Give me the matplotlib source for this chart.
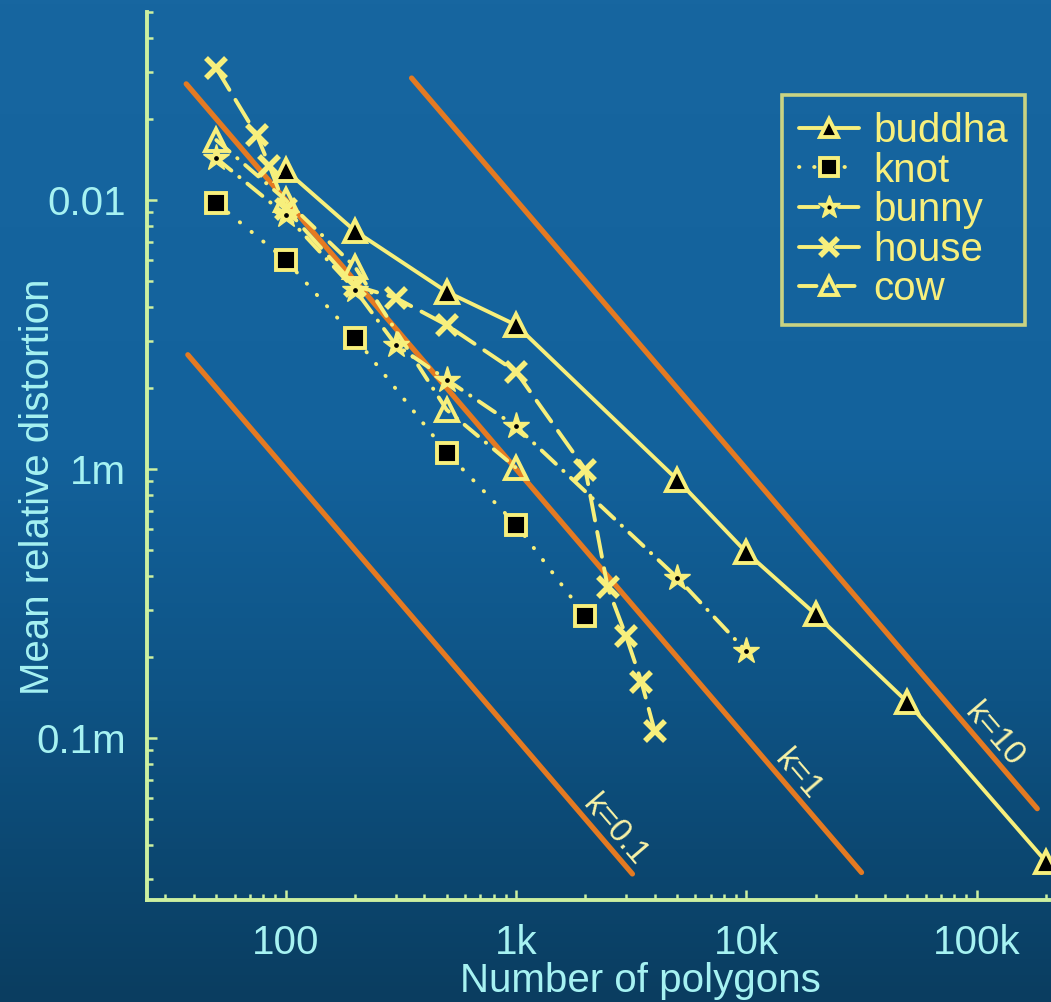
import numpy as np
import matplotlib
matplotlib.use("Agg")
import matplotlib.pyplot as plt
from matplotlib.colors import LinearSegmentedColormap
from matplotlib.ticker import LogLocator, FixedLocator, FixedFormatter, NullFormatter
from matplotlib.legend_handler import HandlerTuple

plt.rcParams['font.family'] = ['Liberation Sans', 'DejaVu Sans']

# ---------------- data ----------------
buddha_x = [100, 200, 500, 1000, 5000, 10000, 20000, 50000, 200000]
buddha_y = [0.0129, 0.00767, 0.00456, 0.00343, 0.000914, 0.00049, 0.000288, 0.000136, 3.47e-5]

knot_x = [50, 100, 200, 500, 1000, 2000]
knot_y = [0.00975, 0.00599, 0.00308, 0.00115, 0.000622, 0.000284]

bunny_x = [50, 100, 200, 300, 500, 1000, 5000, 10000]
bunny_y = [0.0143, 0.0088, 0.00464, 0.0029, 0.00215, 0.00144, 0.000395, 0.00021]

house_x = [50, 75, 85, 100, 200, 300, 500, 1000, 2000, 2500, 3000, 3500, 4000]
house_y = [0.0309, 0.0174, 0.0134, 0.0093, 0.0048, 0.00433, 0.00343, 0.0023,
           0.000995, 0.000363, 0.00024, 0.000162, 0.000106]

cow_x = [50, 100, 200, 500, 1000]
cow_y = [0.0167, 0.0100, 0.00564, 0.00166, 0.00101]

k_values = [0.1, 1, 10]
k_labels = ["k=0.1", "k=1", "k=10"]
k_start_x = [37.6, 37.0, 352]
k_end_x = [3200, 31600, 183000]
k_label_x = [2400, 14900, 106000]

xtick_vals = [100, 1000, 10000, 100000]
xtick_labels = ["100", "1k", "10k", "100k"]
ytick_vals = [0.01, 0.001, 0.0001]
ytick_labels = ["0.01", "1m", "0.1m"]

# ---------------- style ----------------
W, H = 1051, 1002
YEL = '#f7ef7c'
ORANGE = '#e47a22'
AXC = '#cdf0a0'
CYAN = '#a6f2f2'
FS = 29

fig = plt.figure(figsize=(W / 100, H / 100), dpi=100)

# background gradient
bg = fig.add_axes([0, 0, 1, 1], zorder=-10)
cmap = LinearSegmentedColormap.from_list(
    'bg', [(0.0, '#1766a0'), (0.45, '#13629c'), (0.7, '#0e5384'), (1.0, '#0a3d60')])
grad = np.linspace(0, 1, 256).reshape(-1, 1)
bg.imshow(grad, aspect='auto', cmap=cmap, extent=[0, 1, 0, 1], origin='upper')
bg.set_axis_off()

left = 147 / W
bottom = (H - 900) / H
top = (H - 12) / H
ax = fig.add_axes([left, bottom, 1.0 - left, top - bottom])
ax.set_facecolor('none')
ax.set_xscale('log')
ax.set_yscale('log')
ax.set_xlim(25, 2.1e5)
ax.set_ylim(2.5e-5, 0.05)

# reference k lines
for k, x0, x1 in zip(k_values, k_start_x, k_end_x):
    xs = np.array([x0, x1])
    ax.plot(xs, k / xs, color=ORANGE, lw=3.8, solid_capstyle='round', zorder=2)

lw = 2.8
common = dict(color=YEL, lw=lw, dash_capstyle='round', solid_capstyle='round', zorder=3)

l_buddha, = ax.plot(buddha_x, buddha_y, linestyle='-', marker='^', ms=16,
                    mfc='black', mec=YEL, mew=2.8, **common)
l_knot, = ax.plot(knot_x, knot_y, linestyle=(0, (0.1, 3.8)), marker='s', ms=14.5,
                  mfc='black', mec=YEL, mew=2.8, **common)
l_bunny, = ax.plot(bunny_x, bunny_y, linestyle=(0, (5, 2.6, 0.1, 2.6)), marker='*', ms=20,
                   mfc=YEL, mec=YEL, mew=1.0, **common)
d_bunny, = ax.plot(bunny_x, bunny_y, linestyle='none', marker='o', ms=2.4,
                   mfc='black', mec='black', zorder=4)
l_house, = ax.plot(house_x, house_y, linestyle=(0, (6.5, 3)), marker='x', ms=15,
                   mec=YEL, mew=4.0, **common)
l_cow, = ax.plot(cow_x, cow_y, linestyle=(0, (4.5, 2.6, 0.1, 2.6)), marker='^', ms=16,
                 mfc='none', mec=YEL, mew=2.8, **common)

# k labels
p0 = ax.transData.transform((100, 0.01))
p1 = ax.transData.transform((1000, 0.001))
ang = np.degrees(np.arctan2(p1[1] - p0[1], p1[0] - p0[0]))
ux, uy = (p1 - p0) / np.hypot(*(p1 - p0))
px, py = -uy, ux  # perpendicular (up-right)
for k, lab, xl in zip(k_values, k_labels, k_label_x):
    ax.annotate(lab, (xl, k / xl), xytext=(px * 15, py * 15), textcoords='offset pixels',
                rotation=ang, rotation_mode='anchor', ha='center', va='center',
                color='#f8f2a6', fontsize=24, zorder=5)

# axes styling
for s in ['top', 'right']:
    ax.spines[s].set_visible(False)
for s in ['left', 'bottom']:
    ax.spines[s].set_color(AXC)
    ax.spines[s].set_linewidth(2.8)

ax.xaxis.set_major_locator(FixedLocator(xtick_vals))
ax.xaxis.set_major_formatter(FixedFormatter(xtick_labels))
ax.yaxis.set_major_locator(FixedLocator(ytick_vals))
ax.yaxis.set_major_formatter(FixedFormatter(ytick_labels))
ax.xaxis.set_minor_locator(LogLocator(base=10, subs=np.arange(2, 10), numticks=50))
ax.yaxis.set_minor_locator(LogLocator(base=10, subs=np.arange(2, 10), numticks=50))
ax.xaxis.set_minor_formatter(NullFormatter())
ax.yaxis.set_minor_formatter(NullFormatter())

ax.tick_params(which='both', direction='in', color=AXC, width=1.8,
               labelcolor=CYAN, labelsize=FS, top=False, right=False)
ax.tick_params(which='major', length=7)
ax.tick_params(which='minor', length=4.5)
ax.tick_params(axis='x', which='major', pad=17)
ax.tick_params(axis='y', which='major', pad=15)

ax.set_xlabel("Number of polygons", color=CYAN, fontsize=FS, va='center')
ax.xaxis.set_label_coords((640 - 147) / (W - 147), (900 - 981) / 888)
ax.set_ylabel("Mean relative distortion", color=CYAN, fontsize=FS, va='center')
ax.yaxis.set_label_coords((38 - 147) / (W - 147), (900 - 487) / 888)

# legend
leg = ax.legend([l_buddha, l_knot, (l_bunny, d_bunny), l_house, l_cow],
                ["buddha", "knot", "bunny", "house", "cow"],
                handler_map={tuple: HandlerTuple(ndivide=1, pad=0)},
                loc='upper right', bbox_to_anchor=((1025 - 147) / (W - 147), (900 - 95) / 888),
                borderaxespad=0, fontsize=FS, labelcolor=YEL, frameon=True, fancybox=False,
                handlelength=1.5, handletextpad=0.35, labelspacing=0.04, borderpad=0.42,
                markerscale=0.85)
fr = leg.get_frame()
fr.set_facecolor('none')
fr.set_edgecolor(YEL)
fr.set_linewidth(2.6)

fig.savefig('out.png', dpi=100)
